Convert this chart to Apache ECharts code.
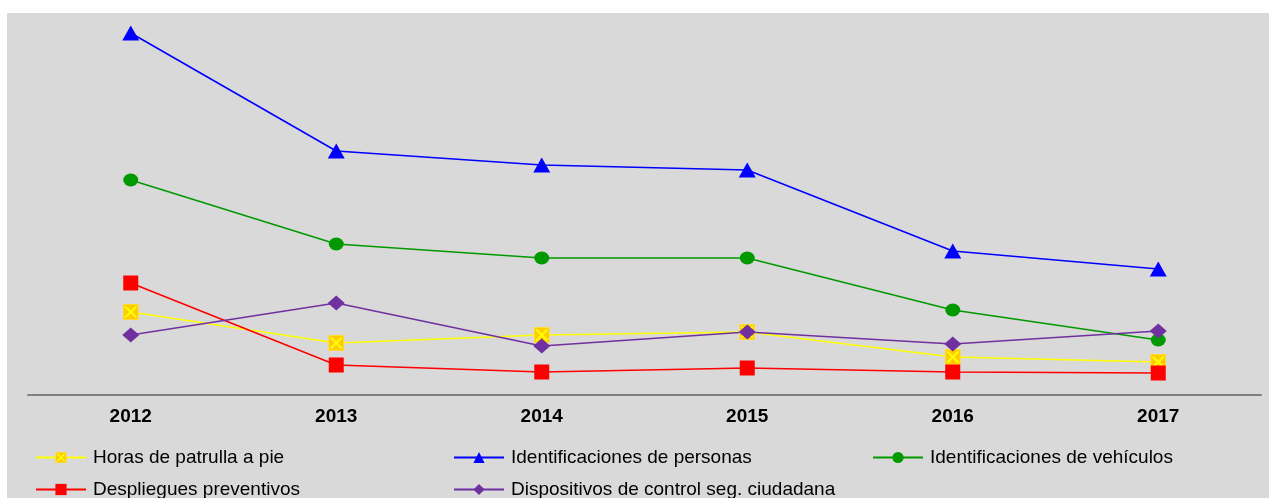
<!DOCTYPE html>
<html>
<head>
<meta charset="utf-8">
<script src="https://cdn.jsdelivr.net/npm/echarts@6/dist/echarts.min.js"></script>
<style>
  html, body { margin: 0; padding: 0; background: #ffffff; }
  #main { width: 1269px; height: 498px; }
</style>
</head>
<body>
<div id="main"></div>
<script>
// years on the x axis
var years = ['2012', '2013', '2014', '2015', '2016', '2017'];

// values (no y axis shown, relative units)
var horasPatrulla = [83, 52, 60, 63, 38, 33];
var identPersonas = [362, 244, 230, 225, 144, 126];
var identVehiculos = [215, 151, 137, 137, 85, 55];
var desplieguesPrev = [112, 30, 23, 27, 23, 22];
var dispositivosControl = [60, 92, 49, 63, 51, 64];

var seriesNames = [
    'Horas de patrulla a pie',
    'Identificaciones de personas',
    'Identificaciones de vehículos',
    'Despliegues preventivos',
    'Dispositivos de control seg. ciudadana'
];

// gold square with a yellow cross, like the original marker
var crossSvg = "<svg xmlns='http://www.w3.org/2000/svg' width='16' height='16'>" +
    "<rect x='0.5' y='0.5' width='15' height='15' fill='#ffcc00' stroke='#ffdd33'/>" +
    "<path d='M2.5 2.5L13.5 13.5M13.5 2.5L2.5 13.5' stroke='#ffff00' stroke-width='2'/></svg>";
var crossSymbol = 'image://data:image/svg+xml;charset=utf-8,' + encodeURIComponent(crossSvg);

var chart = echarts.init(document.getElementById('main'), null, { renderer: 'canvas' });

function legendAt(name, left, top) {
    return {
        data: [name],
        left: left,
        top: top,
        padding: 0,
        itemWidth: 50,
        itemHeight: 14,
        itemGap: 0,
        textStyle: { fontFamily: 'Liberation Sans, Arial, sans-serif', fontSize: 19, color: '#000000', padding: [0, 0, 0, 2] },
        selectedMode: false
    };
}

var option = {
    animation: false,
    backgroundColor: 'transparent',
    graphic: [{
        type: 'rect',
        left: 7,
        top: 13,
        z: -10,
        shape: { width: 1262, height: 485 },
        style: { fill: '#d9d9d9' },
        silent: true
    }],
    grid: { left: 28, right: 8, top: 15, bottom: 103 },
    legend: [
        legendAt(seriesNames[0], 35, 448),
        legendAt(seriesNames[1], 453, 448),
        legendAt(seriesNames[2], 872, 448),
        legendAt(seriesNames[3], 35, 480),
        legendAt(seriesNames[4], 453, 480)
    ],
    xAxis: {
        type: 'category',
        data: years,
        boundaryGap: true,
        axisLine: { lineStyle: { color: '#808080', width: 2 } },
        axisTick: { show: false },
        axisLabel: {
            margin: 12,
            fontFamily: 'Liberation Sans, Arial, sans-serif',
            fontSize: 19,
            fontWeight: 'bold',
            color: '#000000'
        }
    },
    yAxis: {
        type: 'value',
        min: 0,
        max: 380,
        show: false,
        splitLine: { show: false }
    },
    series: [
        {
            name: seriesNames[0],
            type: 'line',
            data: horasPatrulla,
            symbol: crossSymbol,
            symbolSize: 16,
            itemStyle: { color: '#ffff00' },
            lineStyle: { color: '#ffff00', width: 1.6 }
        },
        {
            name: seriesNames[1],
            type: 'line',
            data: identPersonas,
            symbol: 'triangle',
            symbolSize: [17, 15],
            itemStyle: { color: '#0000ff' },
            lineStyle: { color: '#0000ff', width: 1.6 }
        },
        {
            name: seriesNames[2],
            type: 'line',
            data: identVehiculos,
            symbol: 'circle',
            symbolSize: [15, 13],
            itemStyle: { color: '#009900' },
            lineStyle: { color: '#009900', width: 1.6 }
        },
        {
            name: seriesNames[3],
            type: 'line',
            data: desplieguesPrev,
            symbol: 'rect',
            symbolSize: 15,
            itemStyle: { color: '#ff0000' },
            lineStyle: { color: '#ff0000', width: 1.6 }
        },
        {
            name: seriesNames[4],
            type: 'line',
            data: dispositivosControl,
            symbol: 'diamond',
            symbolSize: [17, 15],
            itemStyle: { color: '#7030a0' },
            lineStyle: { color: '#7030a0', width: 1.6 }
        }
    ]
};

chart.setOption(option);
</script>
</body>
</html>
